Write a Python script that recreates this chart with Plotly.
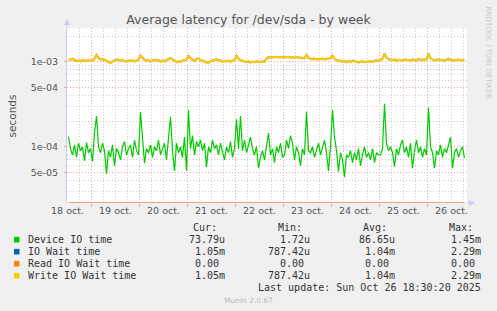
import math
import plotly.graph_objects as go
import pandas as pd

# ---------------- data (in microseconds) -------------
start_time = "2025-10-18 12:30"

device_io_us = [
    131, 95, 80, 105, 75, 110, 90, 100, 68, 112, 85, 95,                                   # 18 oct (pm)
    67, 145, 230, 100, 85, 110, 90, 48, 90, 75, 105, 60, 95, 85, 70, 100, 115, 80, 95, 105, 75, 120, 90, 80,
    255, 110, 64, 95, 85, 105, 75, 100, 90, 120, 80, 95, 110, 70, 130, 225, 90, 52, 110, 85, 100, 75, 130, 52,
    270, 95, 135, 80, 115, 100, 120, 90, 110, 58, 100, 85, 120, 95, 105, 80, 110, 90, 70, 100, 85, 115, 75, 95,
    210, 95, 230, 90, 120, 85, 105, 130, 95, 80, 100, 56, 75, 90, 70, 105, 145, 80, 95, 65, 100, 85, 110, 75,
    80, 120, 95, 135, 110, 70, 100, 85, 60, 95, 80, 260, 90, 85, 100, 75, 95, 110, 80, 100, 120, 85, 52, 100,
    270, 130, 90, 51, 85, 70, 44, 80, 75, 90, 65, 85, 70, 95, 60, 80, 100, 75, 85, 70, 95, 65, 85, 80,
    80, 95, 320, 110, 90, 100, 85, 58, 95, 80, 105, 120, 85, 100, 75, 110, 56, 90, 120, 85, 100, 75, 95, 80,
    290, 100, 85, 56, 90, 80, 105, 75, 95, 85, 110, 130, 56, 85, 95, 75, 90, 100, 74,      # 26 oct
]

write_wait_us = [
    1040, 1060, 1080, 1050, 1020, 1030, 1010, 1040, 1030, 1020, 1050, 1030,
    1030, 1080, 1200, 1110, 1060, 1080, 1050, 1030, 1000, 970, 1010, 1040, 1060, 1050, 1030, 1040, 1020, 1000, 1030, 1020, 1040, 1010, 1030, 1060,
    1180, 1100, 1050, 1030, 1040, 1010, 1020, 1050, 1030, 1040, 1000, 1030, 1010, 1040, 1060, 1110, 1060, 1020, 990, 1010, 1000, 1030, 1040, 1060,
    1170, 1090, 1050, 1030, 1060, 1100, 1040, 1020, 1000, 980, 970, 1010, 1030, 1050, 1070, 1030, 1040, 1000, 1020, 1010, 1030, 1000, 1020, 1050,
    1170, 1080, 1040, 1020, 1000, 990, 1010, 980, 1000, 990, 1010, 1000, 990, 1010, 1000, 1080, 1130, 1130, 1120, 1140, 1130, 1120, 1130, 1140,
    1120, 1130, 1140, 1120, 1130, 1110, 1130, 1120, 1110, 1090, 1100, 1200, 1110, 1080, 1070, 1090, 1060, 1080, 1070, 1090, 1060, 1080, 1100, 1100,
    1180, 1080, 1040, 1020, 1030, 1000, 1010, 990, 1020, 1000, 1030, 1010, 990, 980, 1000, 1010, 990, 1000, 1020, 1010, 1000, 1030, 1040, 1020,
    1040, 1080, 1250, 1120, 1070, 1050, 1040, 1060, 1030, 1050, 1040, 1030, 1060, 1050, 1040, 1030, 1060, 1040, 1030, 1080, 1050, 1040, 1070, 1060,
    1250, 1100, 1060, 1040, 1050, 1070, 1040, 1050, 1030, 1060, 1080, 1050, 1040, 1030, 1050, 1060, 1030, 1040, 1050,
]

io_wait_us = list(write_wait_us)          # IO Wait time coincides with Write IO Wait time
read_wait_us = [0] * len(device_io_us)     # Read IO Wait time is 0 all week

day_marks = ["2025-10-19", "2025-10-20", "2025-10-21", "2025-10-22",
             "2025-10-23", "2025-10-24", "2025-10-25", "2025-10-26"]
label_days = ["2025-10-18 12:00", "2025-10-19 12:00", "2025-10-20 12:00", "2025-10-21 12:00",
              "2025-10-22 12:00", "2025-10-23 12:00", "2025-10-24 12:00", "2025-10-25 12:00",
              "2025-10-26 12:00"]
day_labels = ["18 oct.", "19 oct.", "20 oct.", "21 oct.", "22 oct.",
              "23 oct.", "24 oct.", "25 oct.", "26 oct."]

y_major = [5e-5, 1e-4, 5e-4, 1e-3]
y_major_text = ["5e-05", "1e-04", "5e-04", "1e-03"]
y_minor = [3e-5, 4e-5, 6e-5, 7e-5, 8e-5, 9e-5, 2e-4, 3e-4, 4e-4, 6e-4, 7e-4, 8e-4, 9e-4, 2e-3]

legend_names = ["Device IO time", "IO Wait time", "Read IO Wait time", "Write IO Wait time"]
legend_colors = ["#00CC00", "#0066B3", "#FF8000", "#FFCC00"]
stat_cur = ["73.79u", "1.05m", "0.00\u00a0", "1.05m"]
stat_min = ["1.72u", "787.42u", "0.00\u00a0", "787.42u"]
stat_avg = ["86.65u", "1.04m", "0.00\u00a0", "1.04m"]
stat_max = ["1.45m", "2.29m", "0.00\u00a0", "2.29m"]

Y_LO, Y_HI = 2.18e-5, 2.49e-3
X_RANGE = ["2025-10-18 11:45", "2025-10-26 19:45"]

# ---------------- figure -------------------------------------------------------------
times = pd.date_range(start_time, periods=len(device_io_us), freq="h")
six_hour_marks = [t for t in pd.date_range("2025-10-18 18:00", "2025-10-26 18:00", freq="6h")
                  if t.hour != 0]
to_s = lambda arr: [v * 1e-6 for v in arr]

W, H = 497, 311
L, R, T, B = 67, 30, 28, 108
PW, PH = W - L - R, H - T - B


def px(x):
    return (x - L) / PW


def py(y):
    return (H - B - y) / PH


fig = go.Figure()
fig.add_trace(go.Scatter(x=times, y=to_s(device_io_us), mode="lines",
                         line=dict(color=legend_colors[0], width=1.2), showlegend=False))
fig.add_trace(go.Scatter(x=times, y=to_s(io_wait_us), mode="lines",
                         line=dict(color="rgba(190,160,30,0.75)", width=2.4), showlegend=False))
fig.add_trace(go.Scatter(x=times, y=to_s(write_wait_us), mode="lines",
                         line=dict(color=legend_colors[3], width=1.5), showlegend=False))
# zero values sit on the floor of the log axis
fig.add_trace(go.Scatter(x=times, y=[max(v * 1e-6, Y_LO) for v in read_wait_us], mode="lines",
                         line=dict(color="rgba(240,140,80,0.8)", width=2), showlegend=False,
                         xaxis="x2"))

red_grid = "rgba(225,120,120,0.65)"
gray_grid = "rgba(170,170,170,0.6)"
DOTS = "1px,2px"
tick_font = dict(family="DejaVu Sans", size=9.5, color="#555")

fig.update_layout(
    width=W, height=H, autosize=False,
    margin=dict(l=L, r=R, t=T, b=B, pad=0),
    paper_bgcolor="#F0F0F0", plot_bgcolor="#FFFFFF",
    title=dict(text="Average latency for /dev/sda - by week", x=0.5, xanchor="center",
               y=1 - 20 / H, yanchor="middle", yref="container",
               font=dict(family="DejaVu Sans", size=12.5, color="#555")),
    xaxis=dict(type="date", range=X_RANGE, tickmode="array", tickvals=day_marks,
               ticktext=[""] * len(day_marks), showticklabels=False,
               ticks="outside", ticklen=3, tickcolor=red_grid,
               showgrid=True, gridcolor=red_grid, griddash=DOTS, gridwidth=1,
               showline=False, zeroline=False),
    xaxis2=dict(type="date", overlaying="x", matches="x", anchor="y", side="bottom",
                tickmode="array", tickvals=label_days, ticktext=day_labels,
                showgrid=False, ticks="", showline=False, zeroline=False,
                tickfont=tick_font),
    yaxis=dict(type="log", range=[math.log10(Y_LO), math.log10(Y_HI)],
               tickmode="array", tickvals=y_major, ticktext=y_major_text, tickfont=tick_font,
               ticks="outside", ticklen=2, tickcolor=red_grid, ticklabelstandoff=4,
               showgrid=True, gridcolor=red_grid, griddash=DOTS, gridwidth=1,
               minor=dict(tickvals=y_minor, showgrid=True, gridcolor=gray_grid, griddash=DOTS,
                          gridwidth=1, ticks=""),
               showline=True, linecolor="#C8CEF2", linewidth=1, zeroline=False),
)

shapes = []
# 6-hour minor vertical grid
for t in six_hour_marks:
    shapes.append(dict(type="line", xref="x", yref="paper", x0=t, x1=t, y0=0, y1=1, layer="below",
                       line=dict(color=gray_grid, width=1, dash=DOTS)))

axis_blue = "#C8CEF2"
# vertical axis extension + arrow
shapes.append(dict(type="line", xref="paper", yref="paper", x0=0, x1=0, y0=1, y1=py(22),
                   line=dict(color=axis_blue, width=1)))
shapes.append(dict(type="path", xref="paper", yref="paper",
                   path=f"M {px(64)} {py(25)} L {px(70)} {py(25)} L {px(67)} {py(19)} Z",
                   fillcolor=axis_blue, line=dict(width=0)))
# horizontal axis extension + arrow
shapes.append(dict(type="line", xref="paper", yref="paper", x0=1, x1=px(471), y0=0, y1=0,
                   line=dict(color=axis_blue, width=1)))
shapes.append(dict(type="path", xref="paper", yref="paper",
                   path=f"M {px(469)} {py(200)} L {px(469)} {py(206)} L {px(475)} {py(203)} Z",
                   fillcolor=axis_blue, line=dict(width=0)))

annotations = []
mono = dict(family="DejaVu Sans Mono", size=10, color="#333")
row_y = [239.7, 251.7, 263.7, 275.7]
for i, name in enumerate(legend_names):
    yc = row_y[i]
    shapes.append(dict(type="rect", xref="paper", yref="paper",
                       x0=px(14), x1=px(19.5), y0=py(yc + 2.8), y1=py(yc - 2.8),
                       fillcolor=legend_colors[i], line=dict(width=0)))
    annotations.append(dict(text=name, x=px(26), y=py(yc), xref="paper", yref="paper",
                            xanchor="left", yanchor="middle", showarrow=False, font=mono))
    for col, right in ((stat_cur, 226.7), (stat_min, 311.7), (stat_avg, 397), (stat_max, 483)):
        annotations.append(dict(text=col[i], x=px(right), y=py(yc), xref="paper", yref="paper",
                                xanchor="right", yanchor="middle", showarrow=False, font=mono))

for hdr, left in (("Cur:", 190.7), ("Min:", 276), ("Avg:", 361), ("Max:", 447)):
    annotations.append(dict(text=hdr, x=px(left), y=py(227.7), xref="paper", yref="paper",
                            xanchor="left", yanchor="middle", showarrow=False, font=mono))

annotations.append(dict(text="Last update: Sun Oct 26 18:30:20 2025", x=px(483), y=py(287.7),
                        xref="paper", yref="paper", xanchor="right", yanchor="middle",
                        showarrow=False, font=mono))
annotations.append(dict(text="Munin 2.0.67", x=px(248), y=py(300.5), xref="paper", yref="paper",
                        xanchor="center", yanchor="middle", showarrow=False,
                        font=dict(family="DejaVu Sans", size=7.5, color="#BBB")))
annotations.append(dict(text="seconds", x=px(11), y=py(115.5), xref="paper", yref="paper",
                        xanchor="center", yanchor="middle", textangle=-90, showarrow=False,
                        font=dict(family="DejaVu Sans", size=10.5, color="#555")))
annotations.append(dict(text="RRDTOOL / TOBI OETIKER", x=px(488.5), y=py(53), xref="paper", yref="paper",
                        xanchor="center", yanchor="middle", textangle=90, showarrow=False,
                        font=dict(family="DejaVu Sans", size=7.2, color="#C8C8C8")))

fig.update_layout(shapes=shapes, annotations=annotations)
fig.write_html("out.html")
